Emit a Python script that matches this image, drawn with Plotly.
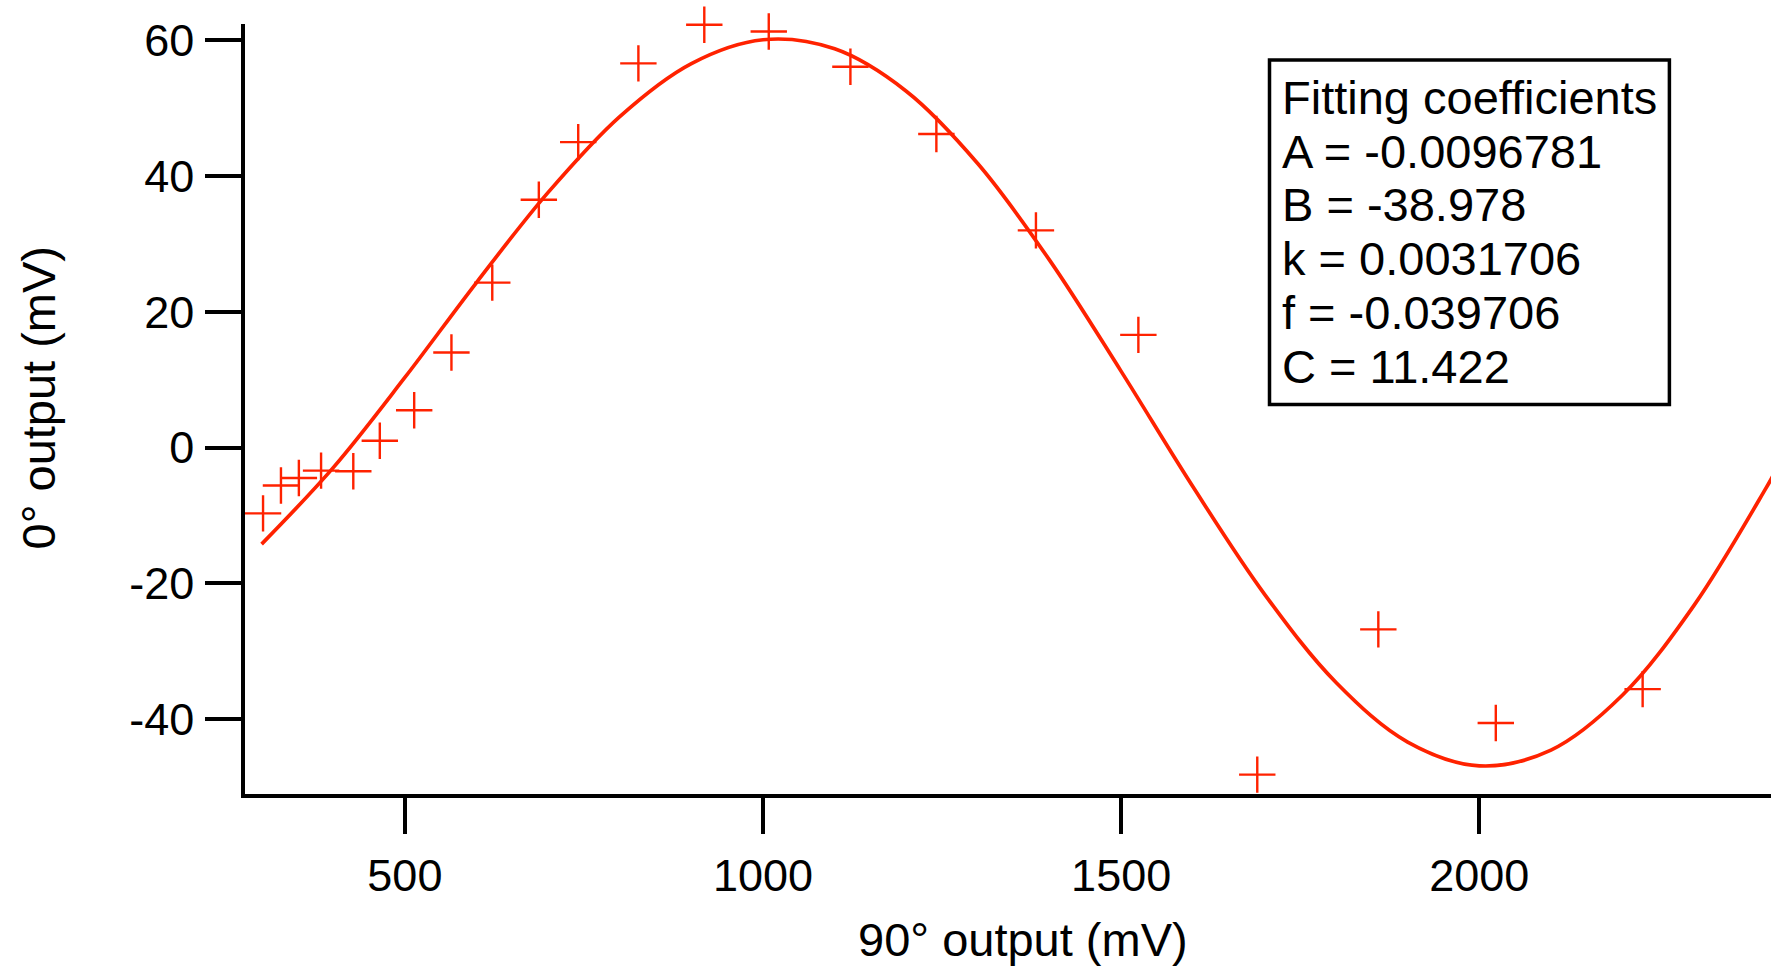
import plotly.graph_objects as go

# ---- data ----
meas_x = [302, 327, 352, 383, 428, 465, 513, 565, 622, 687, 742, 826, 918, 1008,
          1122, 1242, 1381, 1524, 1690, 1859, 2023, 2228]
meas_y = [-9.7, -5.6, -4.5, -3.4, -3.5, 1.0, 5.5, 14.0, 24.3, 36.5, 45.0, 56.6, 62.3, 61.3,
          56.1, 46.2, 32.0, 16.6, -48.2, -26.8, -40.6, -35.6]

fit_x = [300, 400, 500, 600, 700, 800, 900, 1000, 1100, 1200, 1300, 1400, 1500, 1600,
         1700, 1800, 1900, 2000, 2100, 2200, 2300, 2400, 2410]
fit_y = [-14.23, -2.96, 10.32, 24.31, 37.59, 48.76, 56.57, 60.08, 58.74, 52.50, 41.81, 27.61,
         11.22, -5.75, -21.59, -34.62, -43.40, -46.90, -44.58, -36.47, -23.22, -6.02, -4.15]

x_ticks = [500, 1000, 1500, 2000]
x_tick_labels = ["500", "1000", "1500", "2000"]
y_ticks = [-40, -20, 0, 20, 40, 60]
y_tick_labels = ["-40", "-20", "0", "20", "40", "60"]

coef_names = ["A", "B", "k", "f", "C"]
coef_values = ["-0.0096781", "-38.978", "0.0031706", "-0.039706", "11.422"]
box_title = "Fitting coefficients"
x_title = "90° output (mV)"
y_title = "0° output (mV)"

# ---- layout geometry (pixels) ----
W, H = 1771, 966
L, R, T, B = 245, 1771, 24, 794
X_RANGE = [276.8, 2407.2]
Y_RANGE = [-51.05, 62.40]
RED = "#ff2200"
FONT = "Liberation Sans, Arial, sans-serif"


def px_x(px):
    return (px - L) / (R - L)


def px_y(py):
    return (B - py) / (B - T)


fig = go.Figure()
fig.add_trace(go.Scatter(
    x=fit_x, y=fit_y, mode="lines",
    line=dict(color=RED, width=3.7, shape="spline"),
    showlegend=False, hoverinfo="skip"))
fig.add_trace(go.Scatter(
    x=meas_x, y=meas_y, mode="markers",
    marker=dict(symbol="cross-thin", size=26, color=RED,
                line=dict(color=RED, width=2.4)),
    cliponaxis=False, showlegend=False))

axis_common = dict(
    showline=True, linecolor="black", linewidth=3.5,
    ticks="outside", ticklen=36, tickwidth=3.5, tickcolor="black",
    showgrid=False, zeroline=False,
    tickfont=dict(family=FONT, size=45, color="black"),
)

fig.update_layout(
    width=W, height=H,
    margin=dict(l=L, r=W - R, t=T, b=H - B, pad=0),
    paper_bgcolor="white", plot_bgcolor="white",
    xaxis=dict(range=X_RANGE, tickvals=x_ticks, ticktext=x_tick_labels,
               ticklabelstandoff=3, **axis_common),
    yaxis=dict(range=Y_RANGE, tickvals=y_ticks, ticktext=y_tick_labels,
               ticklabelstandoff=2, **axis_common),
    font=dict(family=FONT, color="black"),
)

annotations = []
# axis titles
annotations.append(dict(text=x_title, x=px_x(1023), y=px_y(956 - 16.3),
                        xref="paper", yref="paper", xanchor="center", yanchor="middle",
                        showarrow=False, font=dict(family=FONT, size=47, color="black")))
annotations.append(dict(text=y_title, x=px_x(37.5), y=px_y(398),
                        xref="paper", yref="paper", xanchor="center", yanchor="middle",
                        textangle=-90,
                        showarrow=False, font=dict(family=FONT, size=47, color="black")))

# coefficient box
lines = [box_title] + [f"{n} = {v}" for n, v in zip(coef_names, coef_values)]
base0, step = 113.5, 53.8
for i, txt in enumerate(lines):
    annotations.append(dict(text=txt, x=px_x(1280), y=px_y(base0 + i * step - 16.2),
                            xref="paper", yref="paper", xanchor="left", yanchor="middle",
                            showarrow=False, font=dict(family=FONT, size=47, color="black")))
fig.update_layout(annotations=annotations)

fig.add_shape(type="rect", xref="paper", yref="paper",
              x0=px_x(1269.5), x1=px_x(1669.4), y0=px_y(404.4), y1=px_y(59.9),
              line=dict(color="black", width=3.5), fillcolor="rgba(0,0,0,0)")

fig.write_html("out.html")
